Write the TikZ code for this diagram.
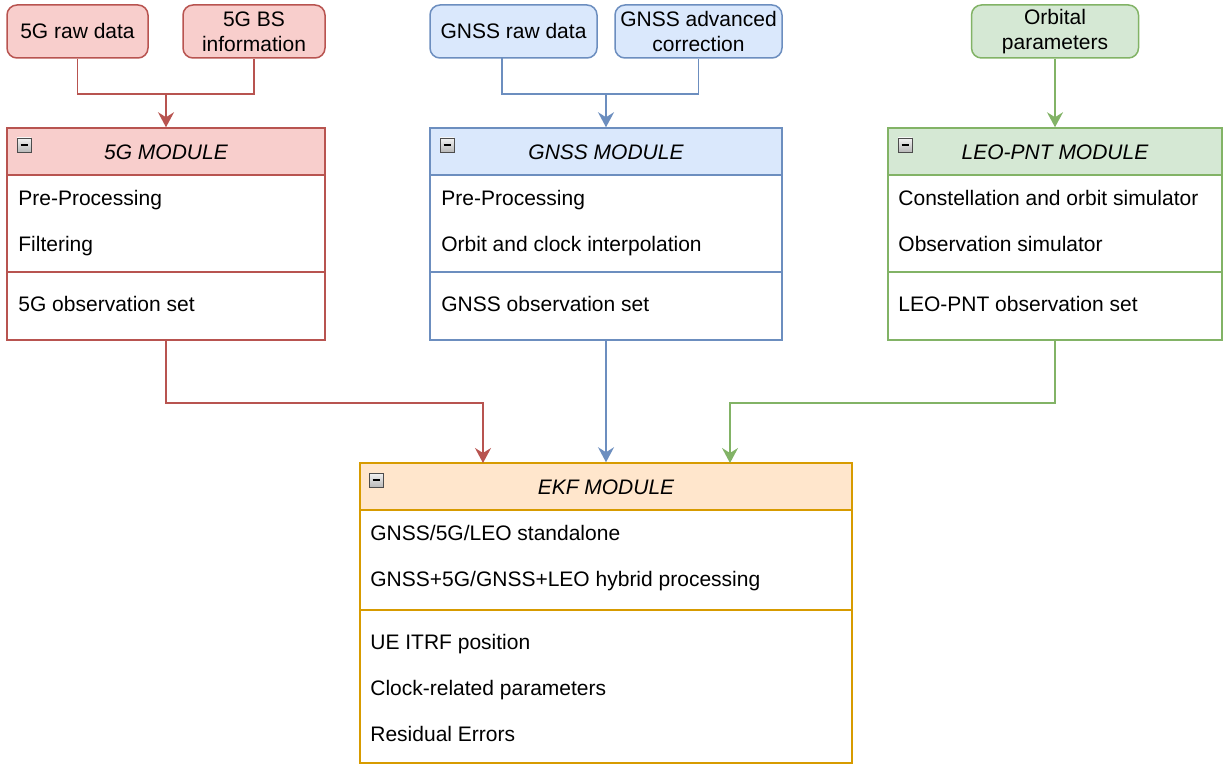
\documentclass[tikz,border=0pt]{standalone}
\usepackage{fontspec}
\setmainfont{Liberation Sans}
\usetikzlibrary{arrows.meta}

\definecolor{redfill}{HTML}{F8CECC}
\definecolor{redline}{HTML}{B85450}
\definecolor{bluefill}{HTML}{DAE8FC}
\definecolor{blueline}{HTML}{6C8EBF}
\definecolor{greenfill}{HTML}{D5E8D4}
\definecolor{greenline}{HTML}{82B366}
\definecolor{orangefill}{HTML}{FFE6CC}
\definecolor{orangeline}{HTML}{D79B00}

\tikzset{
  srcbox/.style={draw=#1line, fill=#1fill, rounded corners=5pt, line width=0.75pt,
    align=center, inner sep=0pt, minimum height=26.5pt},
  modbox/.style={draw=#1line, fill=white, line width=0.75pt, inner sep=0pt},
  modhead/.style={draw=#1line, fill=#1fill, line width=0.75pt},
  title/.style={font=\itshape, inner sep=0pt, text height=10pt, text depth=2.2pt},
  item/.style={anchor=west, inner sep=0pt, text height=10pt, text depth=2.2pt},
  link/.style={draw=#1line, line width=0.8pt},
  feed/.style={link=#1, -{Stealth[length=7.5pt, width=8pt, inset=2.5pt]}},
}

% small collapse button in the corner of a module
\newcommand{\foldicon}[2]{%
  \draw[gray!60!black, top color=gray!10, bottom color=gray!55, line width=0.4pt]
    (#1,#2) rectangle ++(14,14);
  \draw[black, line width=0.9pt] (#1+3.5,#2+7) -- ++(7,0);
}

\begin{document}
\begin{tikzpicture}[x=0.5pt, y=-0.5pt]
  \fontsize{10.5pt}{12.5pt}\selectfont
  \useasboundingbox (0,0) rectangle (1224,764);

  % Entradas
  \node[srcbox=red, minimum width=70.5pt] (raw5g) at (77.5,31.5) {5G raw data};
  \node[srcbox=red, minimum width=71pt] (bs5g) at (254,31.5) {5G BS\\information};
  \node[srcbox=blue, minimum width=83.5pt] (rawgnss) at (513.5,31.5) {GNSS raw data};
  \node[srcbox=blue, minimum width=83.5pt] (corrgnss) at (698.5,31.5) {GNSS advanced\\correction};
  \node[srcbox=green, minimum width=83.5pt] (orbleo) at (1055,31.5) {Orbital\\parameters};

  % 5G module
  \node[modbox=red, minimum width=159pt, minimum height=106pt] (mod5g) at (166,234) {};
  \draw[modhead=red] (7,128) rectangle (325,175);
  \draw[link=red] (7,272) -- (325,272);
  \foldicon{17}{138}
  \node[title] (mod5g-title) at (166,152) {5G MODULE};
  \node[item] (mod5g-pre) at (18,198) {Pre-Processing};
  \node[item] (mod5g-filt) at (18,244) {Filtering};
  \node[item] (mod5g-obs) at (18,304) {5G observation set};

  % GNSS module
  \node[modbox=blue, minimum width=176pt, minimum height=106pt] (modgnss) at (606,234) {};
  \draw[modhead=blue] (430,128) rectangle (782,175);
  \draw[link=blue] (430,272) -- (782,272);
  \foldicon{440}{138}
  \node[title] (modgnss-title) at (606,152) {GNSS MODULE};
  \node[item] (modgnss-pre) at (441,198) {Pre-Processing};
  \node[item] (modgnss-orb) at (441,244) {Orbit and clock interpolation};
  \node[item] (modgnss-obs) at (441,304) {GNSS observation set};

  % LEO-PNT module
  \node[modbox=green, minimum width=167pt, minimum height=106pt] (modleo) at (1055,234) {};
  \draw[modhead=green] (888,128) rectangle (1222,175);
  \draw[link=green] (888,272) -- (1222,272);
  \foldicon{898}{138}
  \node[title] (modleo-title) at (1055,152) {LEO-PNT MODULE};
  \node[item] (modleo-const) at (898,198) {Constellation and orbit simulator};
  \node[item] (modleo-sim) at (898,244) {Observation simulator};
  \node[item] (modleo-obs) at (898,304) {LEO-PNT observation set};

  % EKF module
  \node[modbox=orange, minimum width=246pt, minimum height=150pt] (ekf) at (606,613) {};
  \draw[modhead=orange] (360,463) rectangle (852,510);
  \draw[link=orange] (360,610) -- (852,610);
  \foldicon{369}{473}
  \node[title] (ekf-title) at (606,487) {EKF MODULE};
  \node[item] (ekf-std) at (370,533) {GNSS/5G/LEO standalone};
  \node[item] (ekf-hyb) at (370,579) {GNSS+5G/GNSS+LEO hybrid processing};
  \node[item] (ekf-pos) at (370,642) {UE ITRF position};
  \node[item] (ekf-clk) at (370,688) {Clock-related parameters};
  \node[item] (ekf-res) at (370,734) {Residual Errors};

  % Uniones de entradas
  \coordinate (join5g) at (166,94);
  \coordinate (tapgnss) at (502,58);
  \coordinate (joingnss) at (606,94);
  \draw[link=red] (raw5g.south) |- (join5g) -| (bs5g.south);
  \draw[feed=red] (join5g) -- (mod5g.north);
  \draw[link=blue] (tapgnss) |- (joingnss) -| (corrgnss.south);
  \draw[feed=blue] (joingnss) -- (modgnss.north);
  \draw[feed=green] (orbleo.south) -- (modleo.north);

  % Salidas hacia el EKF
  \coordinate (in5g) at (483,463);
  \coordinate (inleo) at (730,463);
  \draw[feed=red] (mod5g.south) -- ++(0,62) -| (in5g);
  \draw[feed=blue] (modgnss.south) -- (ekf.north);
  \draw[feed=green] (modleo.south) -- ++(0,62) -| (inleo);
\end{tikzpicture}
\end{document}
